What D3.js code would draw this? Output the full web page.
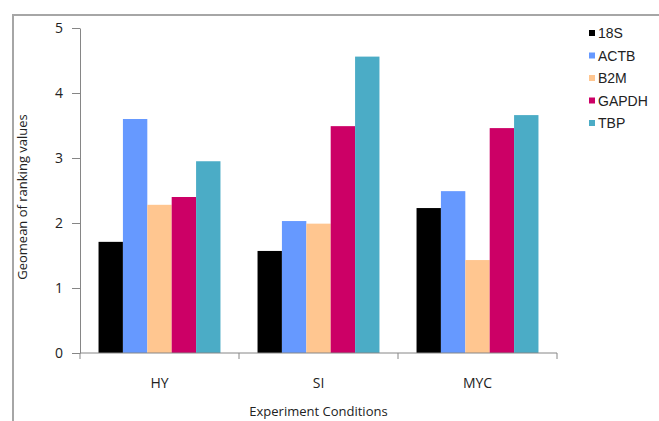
<!DOCTYPE html>
<html>
<head>
<meta charset="utf-8">
<script src="https://cdn.jsdelivr.net/npm/d3@7"></script>
<style>
  html, body { margin: 0; padding: 0; background: #fff; }
  svg { display: block; }
</style>
</head>
<body>
<svg id="chart" width="659" height="421"></svg>
<script>
// Experiment conditions along the x axis
const conditions = ["HY", "SI", "MYC"];
// Reference genes, one bar each per condition
const genes = ["18S", "ACTB", "B2M", "GAPDH", "TBP"];
const geneColors = ["#000000", "#6699FF", "#FFC690", "#CC0066", "#4BACC6"];
// Geomean of ranking values per gene, in condition order
const val18S  = [1.71, 1.57, 2.23];
const valACTB = [3.60, 2.03, 2.49];
const valB2M  = [2.28, 1.99, 1.43];
const valGAPDH = [2.40, 3.49, 3.46];
const valTBP  = [2.95, 4.56, 3.66];
const yTicks = [0, 1, 2, 3, 4, 5];

const seriesValues = [val18S, valACTB, valB2M, valGAPDH, valTBP];
const rows = conditions.map((c, i) => ({
  condition: c,
  values: genes.map((g, j) => ({ gene: g, value: seriesValues[j][i] }))
}));

const svg = d3.select("#chart");
const tickFont = "'Open Sans', sans-serif";

// outer frame: top and left edges
svg.append("path")
  .attr("d", "M13,421 L13,15 L659,15")
  .attr("fill", "none")
  .attr("stroke", "#a6a6a6")
  .attr("stroke-width", 2);

const plot = { left: 80, right: 557, top: 28, bottom: 353 };

const x0 = d3.scaleBand().domain(conditions).range([plot.left, plot.right]).padding(0);
const x1 = d3.scaleBand().domain(genes).range([0, x0.bandwidth()])
  .paddingInner(0).paddingOuter(0.76);
const y = d3.scaleLinear().domain([0, 5]).range([plot.bottom, plot.top]);
const color = d3.scaleOrdinal().domain(genes).range(geneColors);

// bars
svg.append("g").selectAll("g")
  .data(rows)
  .join("g")
  .attr("transform", d => `translate(${x0(d.condition)},0)`)
  .selectAll("rect")
  .data(d => d.values)
  .join("rect")
  .attr("x", d => x1(d.gene))
  .attr("y", d => y(d.value))
  .attr("width", x1.bandwidth())
  .attr("height", d => y(0) - y(d.value))
  .attr("fill", d => color(d.gene));

// y axis
const yAxis = svg.append("g")
  .attr("transform", `translate(${plot.left},0)`)
  .call(d3.axisLeft(y).tickValues(yTicks).tickFormat(d3.format("d"))
    .tickSize(8).tickPadding(9).tickSizeOuter(0));
yAxis.select(".domain").attr("stroke", "#868686");
yAxis.selectAll(".tick line").attr("stroke", "#868686");
yAxis.selectAll("text")
  .attr("font-family", tickFont).attr("font-size", 14).attr("fill", "#222");

// x axis: ticks at category boundaries
const xAxisG = svg.append("g").attr("transform", `translate(0,${plot.bottom})`);
xAxisG.append("line")
  .attr("x1", plot.left).attr("x2", plot.right)
  .attr("stroke", "#868686");
const boundaries = conditions.map(c => x0(c)).concat([x0(conditions[conditions.length - 1]) + x0.bandwidth()]);
xAxisG.selectAll("line.tk")
  .data(boundaries)
  .join("line")
  .attr("class", "tk")
  .attr("x1", d => d).attr("x2", d => d)
  .attr("y1", 0).attr("y2", 6)
  .attr("stroke", "#868686");
xAxisG.selectAll("text")
  .data(conditions)
  .join("text")
  .attr("x", d => x0(d) + x0.bandwidth() / 2)
  .attr("y", 35)
  .attr("text-anchor", "middle")
  .attr("font-family", tickFont).attr("font-size", 14).attr("fill", "#222")
  .text(d => d);

// axis titles
svg.append("text")
  .attr("x", (plot.left + plot.right) / 2)
  .attr("y", 416)
  .attr("text-anchor", "middle")
  .attr("font-family", tickFont).attr("font-size", 13).attr("fill", "#222")
  .text("Experiment Conditions");

svg.append("text")
  .attr("transform", "translate(27,197) rotate(-90)")
  .attr("text-anchor", "middle")
  .attr("font-family", tickFont).attr("font-size", 13).attr("fill", "#222")
  .text("Geomean of ranking values");

// legend
const legend = svg.append("g").attr("transform", "translate(589,33)");
const item = legend.selectAll("g")
  .data(genes)
  .join("g")
  .attr("transform", (d, i) => `translate(0,${i * 22.5})`);
item.append("rect")
  .attr("x", 0).attr("y", -3).attr("width", 6).attr("height", 6)
  .attr("fill", d => color(d));
item.append("text")
  .attr("x", 9).attr("y", 0).attr("dy", "0.36em")
  .attr("font-family", "'Liberation Sans', Arial, sans-serif")
  .attr("font-size", 14).attr("fill", "#222")
  .text(d => d);
</script>
</body>
</html>
